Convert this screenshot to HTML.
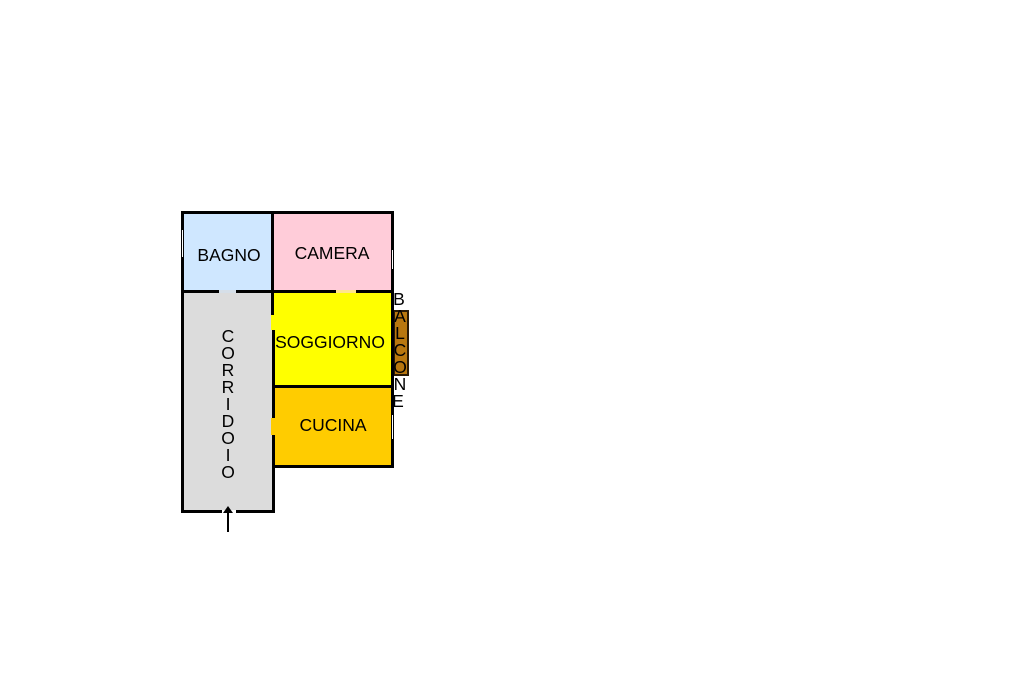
<!DOCTYPE html>
<html>
<head>
<meta charset="utf-8">
<style>
html,body{margin:0;padding:0;background:#fff;width:1024px;height:682px;overflow:hidden}
svg{display:block}
text{font-family:"Liberation Sans",sans-serif;font-size:17.5px;fill:#000;text-anchor:middle}
</style>
</head>
<body>
<svg width="1024" height="682" viewBox="0 0 1024 682" xmlns="http://www.w3.org/2000/svg">
<rect width="1024" height="682" fill="#fff"/>
<!-- room fills -->
<rect x="183" y="213" width="90" height="78" fill="#cfe7ff"/>
<rect x="273" y="213" width="119" height="78" fill="#ffccd9"/>
<rect x="183" y="291" width="90" height="220" fill="#dcdcdc"/>
<rect x="273" y="291" width="119" height="95" fill="#ffff00"/>
<rect x="273" y="386" width="119" height="80" fill="#ffcc00"/>
<!-- balcony -->
<rect x="394" y="311" width="14" height="64" fill="#b8770f" stroke="#2a1a05" stroke-width="2"/>
<!-- walls -->
<g fill="#000">
<rect x="181" y="211" width="213" height="3"/>
<rect x="181" y="211" width="3" height="302"/>
<rect x="391" y="211" width="3" height="257"/>
<rect x="271" y="211" width="3" height="104"/>
<rect x="272" y="330" width="3" height="88"/>
<rect x="272" y="435" width="3" height="78"/>
<rect x="181" y="290" width="38" height="3"/>
<rect x="236" y="290" width="100" height="3"/>
<rect x="356" y="290" width="38" height="3"/>
<rect x="272" y="385" width="122" height="3"/>
<rect x="272" y="465" width="122" height="3"/>
<rect x="181" y="510" width="41" height="3"/>
<rect x="236" y="510" width="39" height="3"/>
</g>
<!-- doors -->
<rect x="219" y="290" width="17" height="3" fill="#d6dfe8"/>
<rect x="336" y="290" width="20" height="3" fill="#ffe58c"/>
<rect x="271" y="315" width="4" height="15" fill="#ffff00"/>
<rect x="271" y="418" width="4" height="17" fill="#ffcc00"/>
<rect x="222" y="510" width="14" height="3" fill="#fff"/>
<!-- windows -->
<rect x="182" y="230" width="1" height="27" fill="#fff"/>
<rect x="392" y="250" width="1" height="19" fill="#fff"/>
<rect x="392" y="415" width="1" height="24" fill="#fff"/>
<!-- arrow -->
<rect x="227" y="510" width="2" height="22" fill="#000"/>
<polygon points="228,506 223,513 233,513" fill="#000"/>
<!-- labels -->
<text x="229" y="261">BAGNO</text>
<text x="332" y="259">CAMERA</text>
<text x="330" y="348">SOGGIORNO</text>
<text x="333" y="431">CUCINA</text>
<g>
<text x="228" y="342">C</text>
<text x="228" y="359">O</text>
<text x="228" y="376">R</text>
<text x="228" y="393">R</text>
<text x="228" y="410">I</text>
<text x="228" y="427">D</text>
<text x="228" y="444">O</text>
<text x="228" y="461">I</text>
<text x="228" y="478">O</text>
</g>
<g>
<text x="399" y="305">B</text>
<text x="400" y="322">A</text>
<text x="400" y="339">L</text>
<text x="400" y="356">C</text>
<text x="400" y="373">O</text>
<text x="400" y="390">N</text>
<text x="398" y="407">E</text>
</g>
</svg>
</body>
</html>
